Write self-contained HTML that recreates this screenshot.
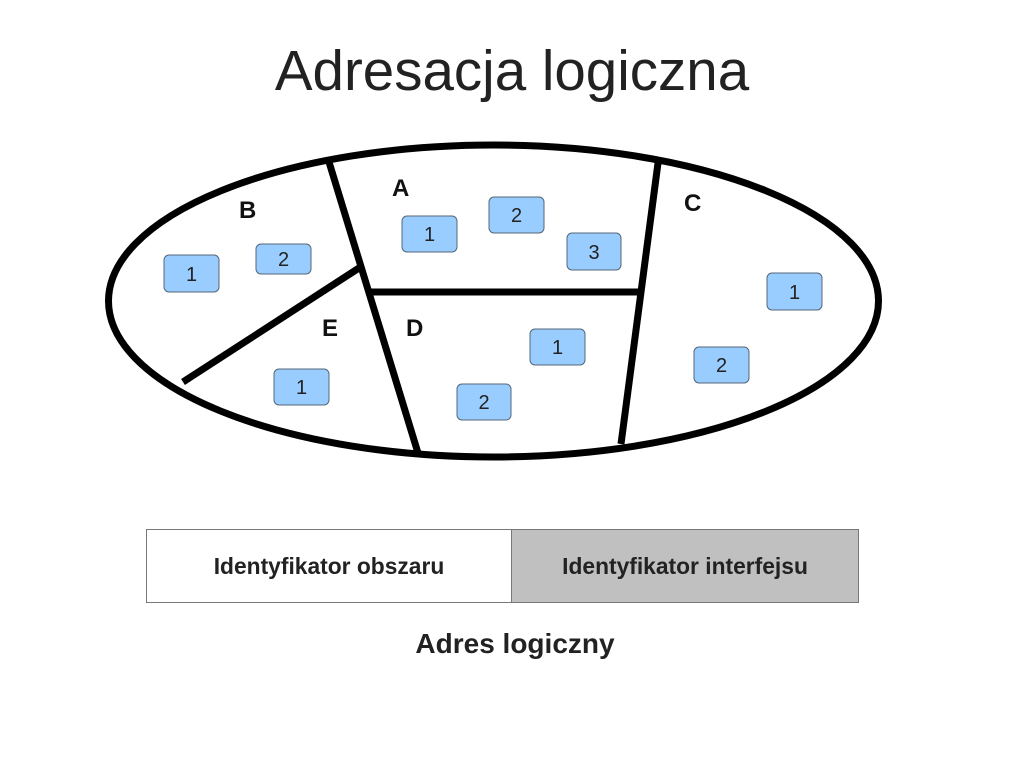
<!DOCTYPE html>
<html><head><style>
body{margin:0;width:1024px;height:767px;background:#fff;overflow:hidden;font-family:"Liberation Sans",sans-serif}
</style></head><body>
<svg width="1024" height="767" xmlns="http://www.w3.org/2000/svg" font-family="Liberation Sans, sans-serif">
<text x="512" y="90" font-size="56.5" text-anchor="middle" fill="#222">Adresacja logiczna</text>
<ellipse cx="493.5" cy="301" rx="385" ry="156" fill="none" stroke="#000" stroke-width="7"/>
<g stroke="#000" stroke-width="7" fill="none">
<line x1="329" y1="162" x2="418" y2="453"/>
<line x1="359" y1="268" x2="183" y2="382"/>
<line x1="368" y1="292" x2="641" y2="292"/>
<line x1="658" y1="163" x2="621" y2="444"/>
</g>
<g font-size="24" font-weight="bold" fill="#111">
<text x="239" y="218">B</text>
<text x="392" y="196">A</text>
<text x="684" y="211">C</text>
<text x="322" y="336">E</text>
<text x="406" y="336">D</text>
</g>
<g fill="#99ccff" stroke="#556677" stroke-width="1">
<rect x="164" y="255" width="55" height="37" rx="5"/>
<rect x="256" y="244" width="55" height="30" rx="5"/>
<rect x="402" y="216" width="55" height="36" rx="5"/>
<rect x="489" y="197" width="55" height="36" rx="5"/>
<rect x="567" y="233" width="54" height="37" rx="5"/>
<rect x="274" y="369" width="55" height="36" rx="5"/>
<rect x="457" y="384" width="54" height="36" rx="5"/>
<rect x="530" y="329" width="55" height="36" rx="5"/>
<rect x="767" y="273" width="55" height="37" rx="5"/>
<rect x="694" y="347" width="55" height="36" rx="5"/>
</g>
<g font-size="20" text-anchor="middle" fill="#222">
<text x="191.5" y="281">1</text>
<text x="283.5" y="266">2</text>
<text x="429.5" y="241">1</text>
<text x="516.5" y="222">2</text>
<text x="594" y="259">3</text>
<text x="301.5" y="394">1</text>
<text x="484" y="409">2</text>
<text x="557.5" y="354">1</text>
<text x="794.5" y="299">1</text>
<text x="721.5" y="372">2</text>
</g>
<rect x="146.5" y="529.5" width="365" height="73" fill="#fff" stroke="#777"/>
<rect x="511.5" y="529.5" width="347" height="73" fill="#c0c0c0" stroke="#777"/>
<g font-size="22.8" font-weight="bold" text-anchor="middle" fill="#222">
<text x="329" y="574">Identyfikator obszaru</text>
<text x="685" y="574">Identyfikator interfejsu</text>
</g>
<text x="515" y="653" font-size="28" font-weight="bold" text-anchor="middle" fill="#222">Adres logiczny</text>
</svg>
</body></html>
